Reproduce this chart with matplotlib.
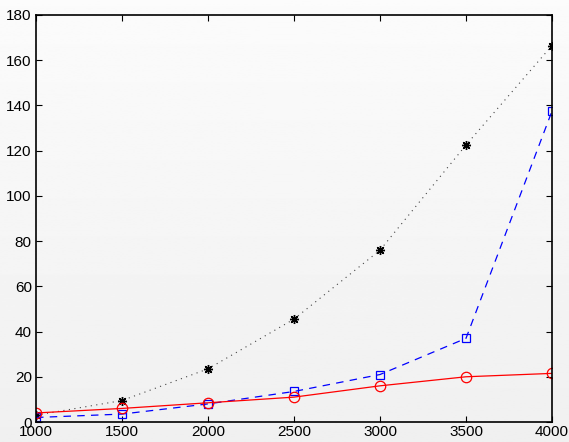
import numpy as np
import matplotlib.pyplot as plt

plt.rcParams['font.family'] = ['Liberation Sans', 'DejaVu Sans']

x = [1000, 1500, 2000, 2500, 3000, 3500, 4000]
black_y = [3, 9.5, 23.5, 45.5, 76, 122.5, 166.5]
blue_y = [2, 3.5, 8, 13.5, 21, 37, 137.5]
red_y = [4, 6, 8.5, 11, 16, 20, 21.5]

fig = plt.figure(figsize=(5.69, 4.42), dpi=100)

# light grey gradient behind everything
bg = fig.add_axes([0, 0, 1, 1], zorder=-10)
grad = np.linspace(0.985, 0.94, 256).reshape(-1, 1)
bg.imshow(grad, aspect='auto', cmap='gray', vmin=0, vmax=1, extent=[0, 1, 0, 1])
bg.axis('off')

ax = fig.add_axes([36 / 569, 20 / 442, 516 / 569, 407 / 442])
ax.patch.set_alpha(0)

ax.plot(x, black_y, color='#444444', linestyle=':', dashes=(1, 4), linewidth=0.8,
        marker=(8, 2, 0), markersize=6.5, markeredgewidth=1.0,
        markeredgecolor='black')
ax.plot(x, blue_y, color='blue', linestyle='--', dashes=(6, 5), linewidth=0.9,
        marker='s', markersize=6, markerfacecolor='none', markeredgewidth=0.9)
ax.plot(x, red_y, color='red', linestyle='-', linewidth=0.9, marker='o',
        markersize=7.5, markerfacecolor='none', markeredgewidth=0.9)

ax.set_xlim(1000, 4000)
ax.set_ylim(0, 180)
ax.set_xticks(range(1000, 4001, 500))
ax.set_yticks(range(0, 181, 20))
ax.tick_params(direction='in', top=True, right=True, labelsize=11, length=4, width=0.8)
ax.tick_params(axis='x', pad=2)
ax.tick_params(axis='y', pad=3)
for s in ax.spines.values():
    s.set_linewidth(1.2)

fig.savefig('out.png', dpi=100)
